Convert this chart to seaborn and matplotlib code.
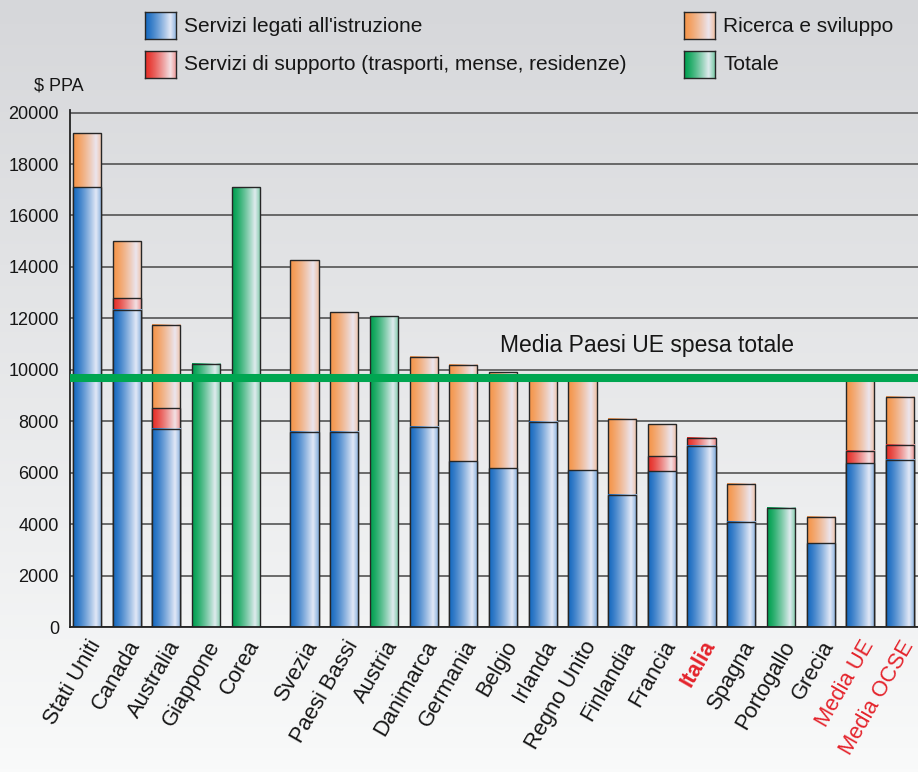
import numpy as np
import pandas as pd
import matplotlib
matplotlib.use("Agg")
import matplotlib.pyplot as plt
import matplotlib.transforms as mtransforms
from matplotlib.colors import to_rgb
import seaborn as sns

# Spesa annua per studente nell'istruzione terziaria ($ PPA)
paesi = ["Stati Uniti", "Canada", "Australia", "Giappone", "Corea",
         "Svezia", "Paesi Bassi", "Austria", "Danimarca", "Germania",
         "Belgio", "Irlanda", "Regno Unito", "Finlandia", "Francia",
         "Italia", "Spagna", "Portogallo", "Grecia", "Media UE", "Media OCSE"]
blocco = [1, 1, 1, 1, 1,
          2, 2, 2, 2, 2, 2, 2, 2, 2, 2, 2, 2, 2, 2, 2, 2]
istruzione = [17100, 12340, 7700, np.nan, np.nan,
              7600, 7600, np.nan, 7780, 6440,
              6180, 7980, 6100, 5150, 6050,
              7040, 4090, np.nan, 3260, 6370, 6500]
supporto = [0, 450, 800, np.nan, np.nan,
            0, 0, np.nan, 0, 0,
            0, 0, 0, 0, 580,
            310, 0, np.nan, 0, 490, 580]
ricerca = [2100, 2210, 3250, np.nan, np.nan,
           6650, 4630, np.nan, 2720, 3750,
           3720, 1620, 3550, 2940, 1250,
           0, 1470, np.nan, 1020, 2790, 1870]
totale = [np.nan, np.nan, np.nan, 10230, 17100,
          np.nan, np.nan, 12080, np.nan, np.nan,
          np.nan, np.nan, np.nan, np.nan, np.nan,
          np.nan, np.nan, 4630, np.nan, np.nan, np.nan]
media_ue_totale = 9700
etichette_rosse = {"Italia": "bold", "Media UE": "normal", "Media OCSE": "normal"}

voci_legenda = ["Servizi legati all'istruzione",
                "Servizi di supporto (trasporti, mense, residenze)",
                "Ricerca e sviluppo", "Totale"]

# colori: tinta piena a sinistra, schiarita verso destra
BLU = ("#176ac0", "#e2e8f6")
ROSSO = ("#e62e27", "#f3e1e4")
ARANCIO = ("#f5954a", "#ebe5ee")
VERDE = ("#00a050", "#dfebee")
VERDE_LINEA = "#00a651"
ROSSO_TESTO = "#e4232b"
BORDO = "#262626"
TESTO = "#161616"

sns.set_theme(style="white")
plt.rcParams["font.family"] = ["Liberation Sans", "DejaVu Sans"]

df = pd.DataFrame({"paese": paesi, "blocco": blocco, "istruzione": istruzione,
                   "supporto": supporto, "ricerca": ricerca, "totale": totale})
df["cima_supporto"] = df["istruzione"] + df["supporto"]
df["cima_ricerca"] = df["cima_supporto"] + df["ricerca"]

# i paesi europei e le medie sono staccati dal primo gruppo
STACCO = 0.48
df["pos"] = np.arange(len(df)) + STACCO * (df["blocco"] == 2)


def sfumatura(colori, n=90):
    base, chiaro = (np.array(to_rgb(c)) for c in colori)
    t = np.linspace(0, 1, n)
    w = np.where(t < 0.8, (t / 0.8) ** 1.3, 1 - 0.45 * (t - 0.8) / 0.2)
    return (base[None, :] + (chiaro - base)[None, :] * w[:, None])[None, :, :]


fig = plt.figure(figsize=(9.18, 7.72), dpi=100)

# sfondo con sfumatura verticale
sfondo = fig.add_axes([0, 0, 1, 1], zorder=-10)
g = np.linspace(0, 1, 256)[:, None]
top, bot = np.array(to_rgb("#d6d7da")), np.array(to_rgb("#f9fafa"))
sfondo.imshow((top + (bot - top) * g)[:, None, :].repeat(2, axis=1),
              extent=(0, 1, 0, 1), aspect="auto")
sfondo.axis("off")

W, H = 918, 772
ax = fig.add_axes([70 / W, (H - 627) / H, (W - 70) / W, (627 - 110) / H])
ax.set_facecolor("none")


def strato(colonna, maschera, colori, livello):
    sub = df[maschera]
    prima = len(ax.patches)
    sns.barplot(data=sub, x="pos", y=colonna, native_scale=True, color=colori[0],
                width=0.71, ax=ax, errorbar=None)
    img = sfumatura(colori)
    for p in ax.patches[prima:]:
        x, y = p.get_x(), p.get_y()
        w, h = p.get_width(), p.get_height()
        if not np.isfinite(h) or h == 0:
            continue
        ax.imshow(img, extent=(x, x + w, y, y + h), aspect="auto",
                  interpolation="bilinear", zorder=livello)
        p.set_facecolor("none")
        p.set_edgecolor(BORDO)
        p.set_linewidth(1.0)
        p.set_zorder(livello + 0.05)


strato("cima_ricerca", df["ricerca"] > 0, ARANCIO, 1.0)
strato("cima_supporto", df["supporto"] > 0, ROSSO, 1.2)
strato("istruzione", df["istruzione"].notna(), BLU, 1.4)
strato("totale", df["totale"].notna(), VERDE, 1.0)

# media UE della spesa totale
ax.axhline(media_ue_totale, color=VERDE_LINEA, lw=5.8, zorder=3)
ax.text(0.68, media_ue_totale + 1260, "Media Paesi UE spesa totale",
        transform=mtransforms.blended_transform_factory(ax.transAxes, ax.transData),
        ha="center", va="center", fontsize=16.5, color=TESTO, zorder=4)

s, x0 = 39.7, 87
ax.set_xlim((70 - x0) / s, (918 - x0) / s)
ax.set_ylim(0, 20100)
ax.set_yticks(range(0, 20001, 2000))
ax.set_xticks(df["pos"], labels=df["paese"])
ax.yaxis.grid(True, color="#474747", lw=1.1)
ax.xaxis.grid(False)
ax.set_axisbelow(True)
for lato in ("top", "right"):
    ax.spines[lato].set_visible(False)
for lato in ("left", "bottom"):
    ax.spines[lato].set_color("#222222")
    ax.spines[lato].set_linewidth(1.3)
ax.set_xlabel("")
ax.set_ylabel("")
ax.tick_params(axis="y", length=0, pad=8, labelsize=13, labelcolor=TESTO)
ax.tick_params(axis="x", length=0, pad=7, labelsize=15.8)
for lab in ax.get_xticklabels():
    lab.set_rotation(60)
    lab.set_ha("right")
    lab.set_va("top")
    lab.set_rotation_mode("anchor")
    nome = lab.get_text()
    if nome in etichette_rosse:
        lab.set_color(ROSSO_TESTO)
        lab.set_fontweight(etichette_rosse[nome])
    else:
        lab.set_color(TESTO)

fig.text(59 / W, (H - 86) / H, "$ PPA", ha="center", va="center",
         fontsize=13, color=TESTO)

# legenda
voci = [(145, 12, BLU, voci_legenda[0]), (145, 51, ROSSO, voci_legenda[1]),
        (684, 12, ARANCIO, voci_legenda[2]), (684, 51, VERDE, voci_legenda[3])]
for lx, ly, colori, testo in voci:
    q = fig.add_axes([lx / W, (H - ly - 27) / H, 31 / W, 27 / H])
    q.imshow(sfumatura(colori), extent=(0, 1, 0, 1), aspect="auto",
             interpolation="bilinear")
    q.set_xticks([])
    q.set_yticks([])
    for sp in q.spines.values():
        sp.set_color(BORDO)
        sp.set_linewidth(1.0)
    fig.text((lx + 39) / W, (H - ly - 14) / H, testo, ha="left", va="center",
             fontsize=15, color=TESTO)

fig.savefig("out.png", dpi=100)
